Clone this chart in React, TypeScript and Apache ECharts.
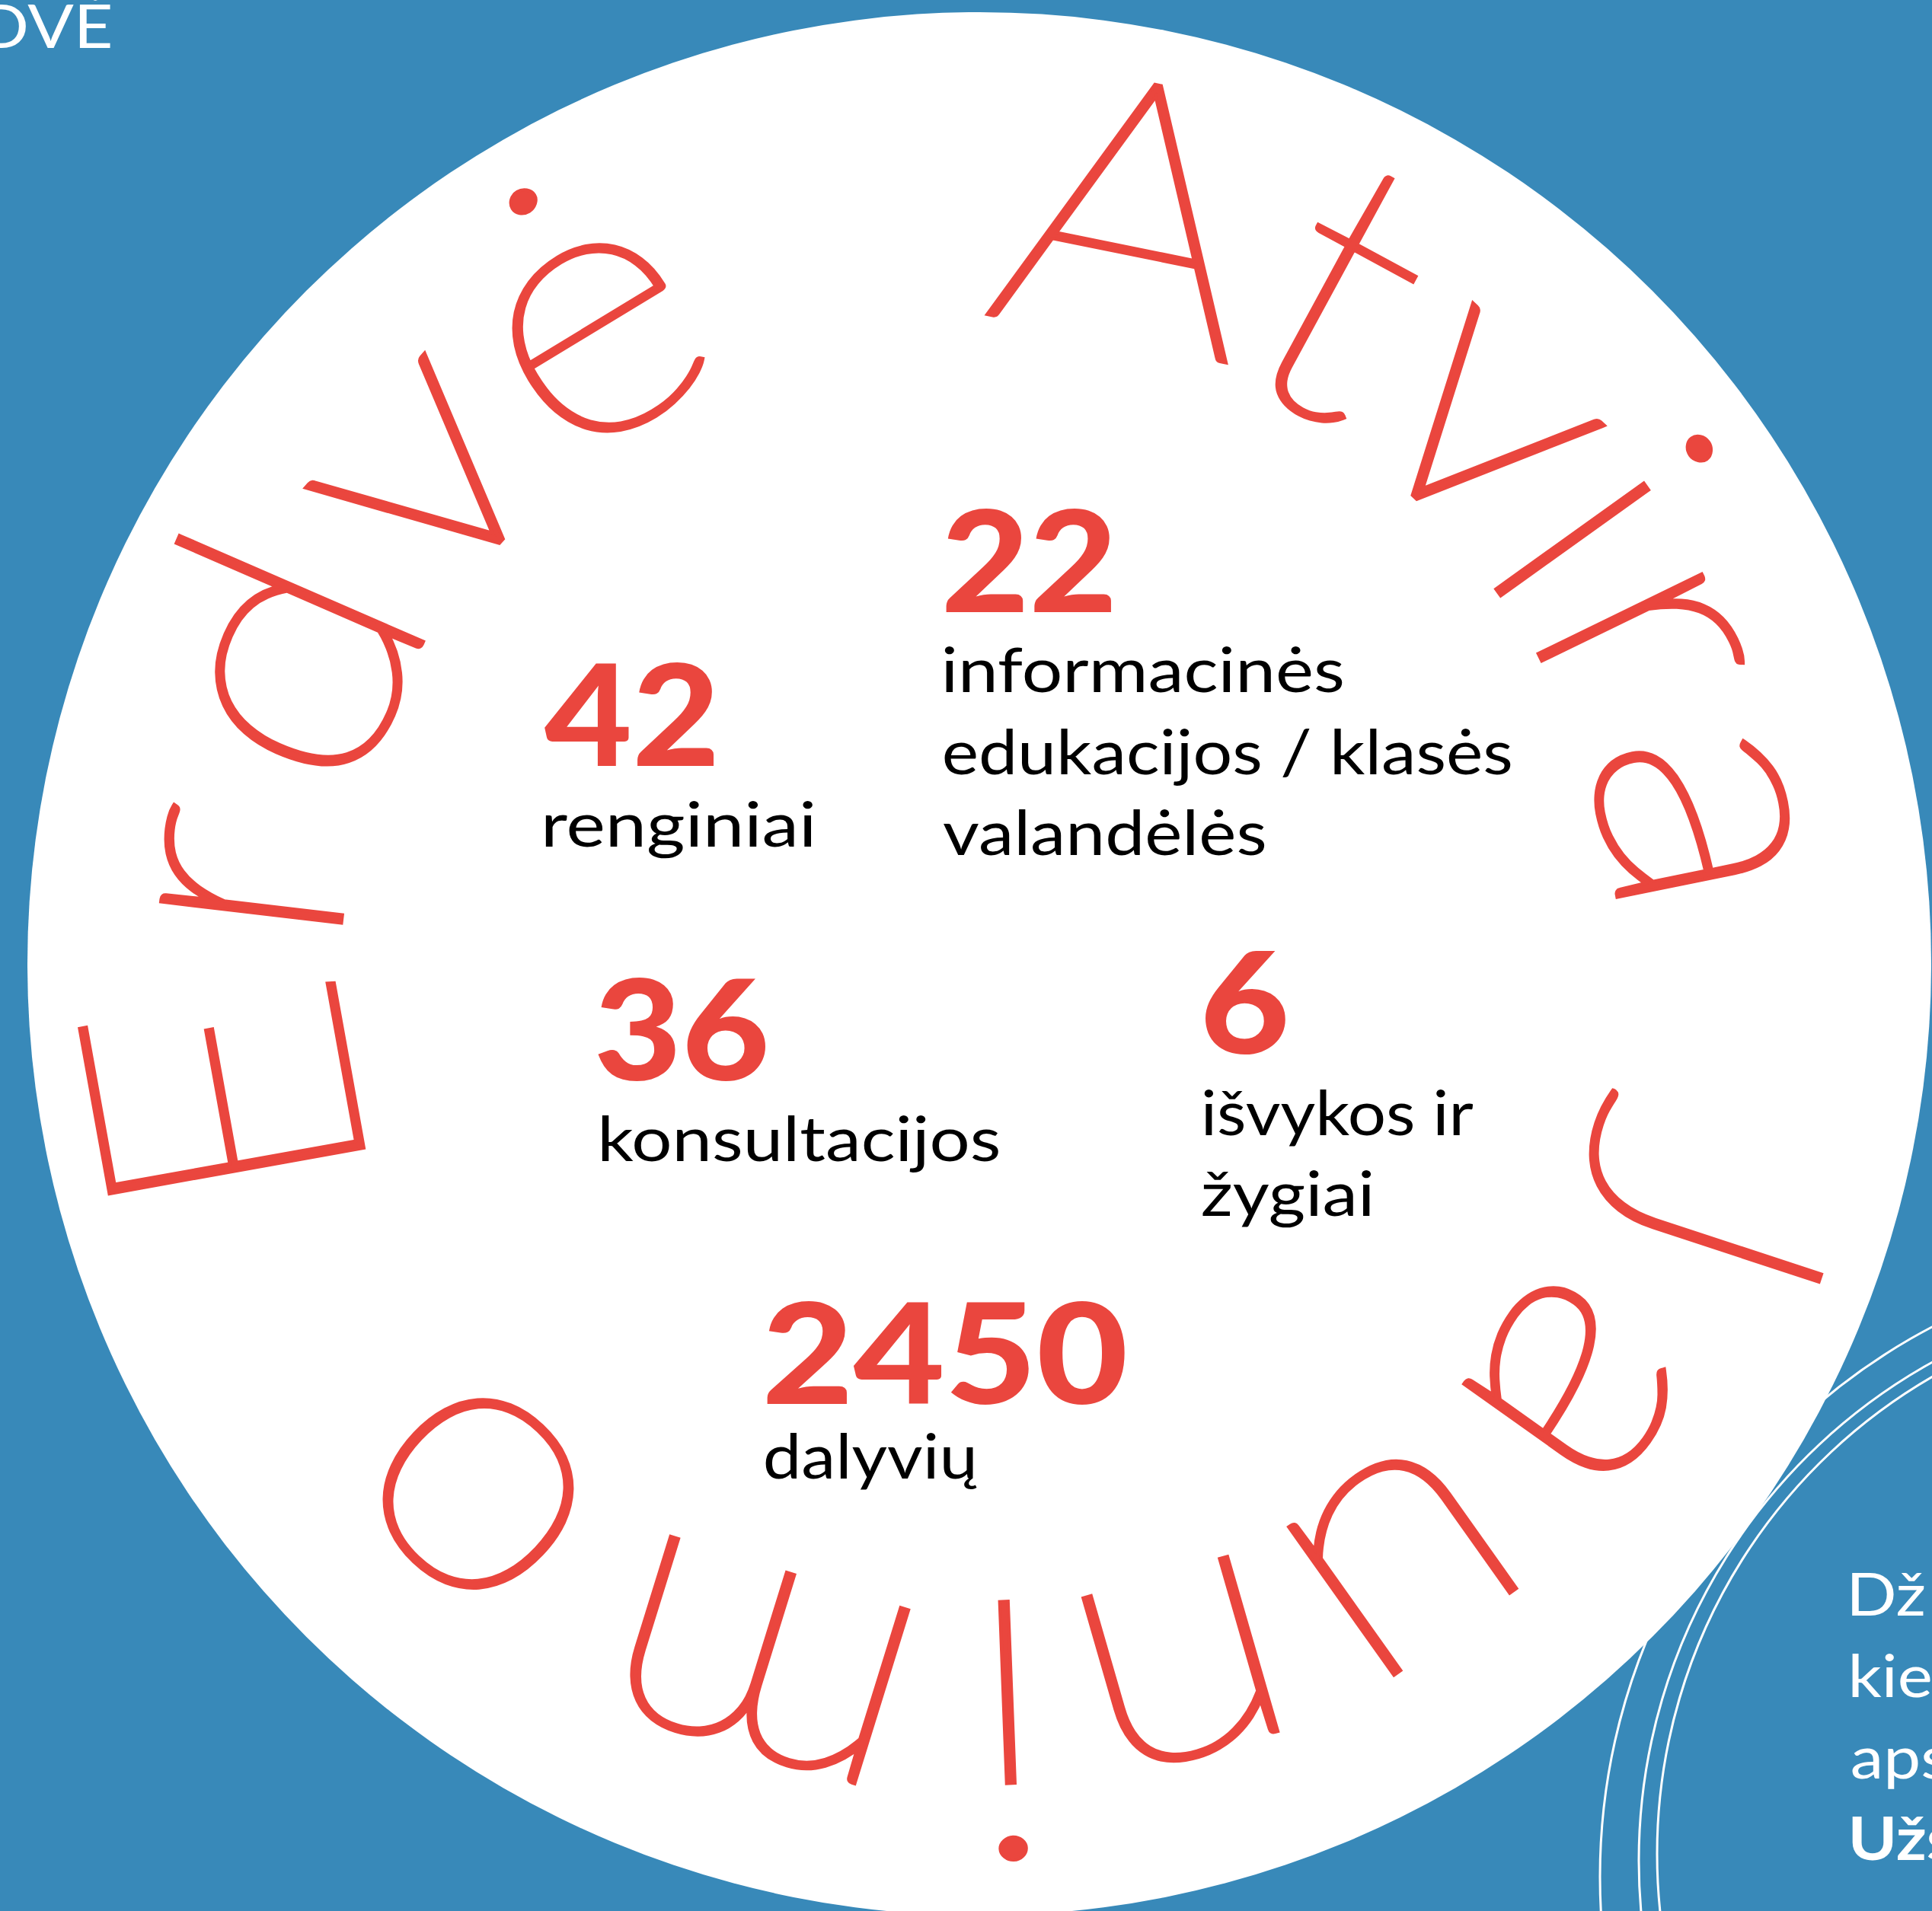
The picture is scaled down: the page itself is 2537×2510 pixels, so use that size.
import React, { useEffect, useRef } from "react";
import * as echarts from "echarts";

// ---------- data ----------
const statValues = ["42", "22", "36", "6", "2450"];
const statLabels = [
  ["renginiai"],
  ["informacinės", "edukacijos / klasės", "valandėlės"],
  ["konsultacijos"],
  ["išvykos ir", "žygiai"],
  ["dalyvių"],
];
const ringLetters = ["A", "t", "v", "i", "r", "a", "J", "a", "u", "n", "i", "m", "o", "E", "r", "d", "v", "ė"];
const ringAngles = [11.5, 28.5, 43, 54.4, 64, 78.5, 108.2, 125.4, 144.6, 163.9, 177.8, 197.2, 223.4, 259.8, 276.7, 293.5, 311.5, 328.7];
const cornerText = "DVĖ";
const sideLines = ["Dž", "kie", "aps", "Užs"];

// ---------- layout ----------
const W = 2537;
const H = 2510;
const CX = 1286;
const CY = 1266;
const R = 1250;
const RB = 840; // baseline radius of ring letters
const BLUE = "#3889b9";
const RED = "#ea463e";
const FAM = "Lato, 'Open Sans', sans-serif";
const RING_FONT = `200 480px ${FAM}`;
const RING_SX = 1.1;
const NUM_FONT = `900 190px ${FAM}`;
const LABEL_FONT = `400 82px ${FAM}`;

// ink boxes of the numbers [left, top, right, bottom]
const valueBoxes = [
  [715, 871, 938, 1007],
  [1242, 668, 1460, 804],
  [785, 1284, 1005, 1421],
  [1583, 1250, 1688, 1387],
  [1007, 1710, 1477, 1847],
];
// per label line: [left, right, baseline]
const labelLines = [
  [[716, 1068, 1112]],
  [[1240, 1763, 909], [1240, 1984, 1017], [1238, 1661, 1123]],
  [[790, 1312, 1525]],
  [[1581, 1935, 1491], [1579, 1801, 1597]],
  [[1005, 1283, 1942]],
];
const sideLeft = 2432;
const sideBaselines = [2122, 2229, 2336, 2443];
const rings = [
  [2917, 2465, 816],
  [2901, 2444, 749],
  [2900, 2435, 724],
];

let ctx: CanvasRenderingContext2D | null = null;
function measure(text: string, font: string) {
  if (!ctx) ctx = document.createElement("canvas").getContext("2d");
  const c = ctx as CanvasRenderingContext2D;
  c.font = font;
  c.textBaseline = "alphabetic";
  c.textAlign = "left";
  const m = c.measureText(text);
  const size = parseFloat(font.split(" ")[1]);
  return {
    abl: m.actualBoundingBoxLeft,
    abr: m.actualBoundingBoxRight,
    aba: m.actualBoundingBoxAscent,
    abd: m.actualBoundingBoxDescent,
    fa: (m as any).fontBoundingBoxAscent ?? size * 0.987,
    fd: (m as any).fontBoundingBoxDescent ?? size * 0.213,
  };
}

function textEl(text: string, font: string, fill: string, x: number, y: number, sx = 1, sy = 1, rotation = 0, align = "left", extra: any = {}) {
  return {
    type: "text",
    x,
    y,
    scaleX: sx,
    scaleY: sy,
    rotation,
    silent: true,
    style: { text, font, fill, textAlign: align, textVerticalAlign: "middle", verticalAlign: "middle", ...extra },
  };
}

function fitBox(text: string, font: string, fill: string, box: number[]) {
  const [L, T, Rr, B] = box;
  const m = measure(text, font);
  const sx = (Rr - L) / (m.abl + m.abr);
  const sy = (B - T) / (m.aba + m.abd);
  const c = (m.fa - m.fd) / 2;
  const x0 = L + sx * m.abl;
  const y0 = T + sy * m.aba - sy * c;
  return textEl(text, font, fill, x0, y0, sx, sy);
}

function fitLine(text: string, font: string, fill: string, L: number, Rr: number, base: number) {
  const m = measure(text, font);
  const sx = (Rr - L) / (m.abl + m.abr);
  const c = (m.fa - m.fd) / 2;
  return textEl(text, font, fill, L + sx * m.abl, base - c, sx, 1);
}

function buildElements() {
  const els: any[] = [];
  rings.forEach(([x, y, r]) =>
    els.push({ type: "circle", silent: true, shape: { cx: x, cy: y, r }, style: { fill: "none", stroke: "#ffffff", lineWidth: 3 } })
  );
  els.push({ type: "circle", silent: true, shape: { cx: CX, cy: CY, r: R }, style: { fill: "#ffffff" } });

  ringLetters.forEach((ch, i) => {
    const th = (ringAngles[i] * Math.PI) / 180;
    const m = measure(ch, RING_FONT);
    const c = (m.fa - m.fd) / 2;
    const rr = RB + c;
    els.push(
      textEl(ch, RING_FONT, RED, CX + rr * Math.sin(th), CY - rr * Math.cos(th), RING_SX, 1, -th, "center", {
        stroke: RED,
        lineWidth: 8,
        lineJoin: "miter",
      })
    );
  });

  statValues.forEach((v, i) => {
    els.push(fitBox(v, NUM_FONT, RED, valueBoxes[i]));
    statLabels[i].forEach((line, j) => {
      const [L, Rr, base] = labelLines[i][j];
      els.push(fitLine(line, LABEL_FONT, "#000000", L, Rr, base));
    });
  });

  // corner text, top-left
  {
    const font = `400 80px ${FAM}`;
    const m = measure(cornerText, font);
    const sx = 1.12;
    const c = (m.fa - m.fd) / 2;
    els.push(textEl(cornerText, font, "#ffffff", 145 - sx * m.abr, 63 - c, sx, 1));
  }
  // side text, bottom-right
  sideLines.forEach((t, i) => {
    const font = `${i === 3 ? 700 : 400} 78px ${FAM}`;
    const m = measure(t, font);
    const sx = 1.12;
    const c = (m.fa - m.fd) / 2;
    els.push(textEl(t, font, "#ffffff", sideLeft + sx * m.abl, sideBaselines[i] - c, sx, 1));
  });
  return els;
}

export default function App() {
  const ref = useRef<HTMLDivElement>(null);
  useEffect(() => {
    document.body.style.margin = "0";
    if (!ref.current) return;
    const chart = echarts.init(ref.current, null, { renderer: "svg" });
    chart.setOption({
      animation: false,
      backgroundColor: BLUE,
      graphic: { elements: buildElements() },
    });
    return () => chart.dispose();
  }, []);
  return <div ref={ref} style={{ width: W, height: H, overflow: "hidden" }} />;
}
